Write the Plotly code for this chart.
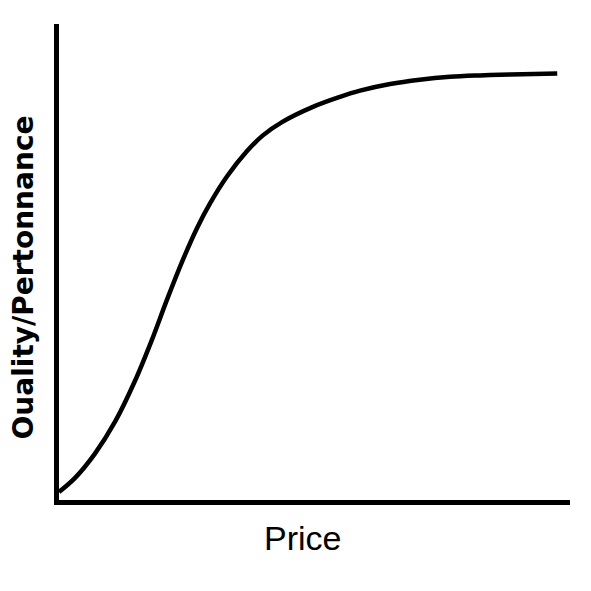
import plotly.graph_objects as go

price = [0, 3.1, 7.0, 11.0, 14.9, 18.2, 21.1, 24.3, 27.0, 29.5, 32.9, 36.8, 39.9, 43.8, 49.7, 55.0, 58.9, 64.8, 70.6, 76.5, 82.4, 88.3, 97.5]
quality = [1.7, 4.6, 9.7, 16.5, 25.1, 33.7, 42.0, 50.6, 57.1, 62.2, 68.0, 73.3, 76.6, 79.5, 82.6, 84.7, 86.0, 87.4, 88.3, 88.9, 89.2, 89.4, 89.6]
x_title = "Price"
y_title = "Ouality/Pertonnance"

fig = go.Figure()
fig.add_trace(go.Scatter(x=price, y=quality, mode="lines",
                         line=dict(color="black", width=4.5, shape="spline", smoothing=1.0),
                         hoverinfo="skip", showlegend=False))

fig.update_layout(
    width=591, height=591,
    margin=dict(l=51, r=29, t=16, b=99),
    paper_bgcolor="white", plot_bgcolor="white",
    font=dict(family="Liberation Sans, Arial, sans-serif", color="black"),
    xaxis=dict(range=[0, 100], showgrid=False, zeroline=False, showticklabels=False, ticks="",
               showline=True, linecolor="black", linewidth=4.5),
    yaxis=dict(range=[0, 100], showgrid=False, zeroline=False, showticklabels=False, ticks="",
               showline=True, linecolor="black", linewidth=4.5),
    annotations=[
        dict(text=x_title, xref="paper", yref="paper", x=0.4765, y=-0.0798, xanchor="center", yanchor="middle",
             showarrow=False, font=dict(size=34, family="Liberation Sans, Arial, sans-serif")),
        dict(text="<b>" + y_title + "</b>", xref="paper", yref="paper", x=-0.069, y=0.467, xanchor="center", yanchor="middle",
             textangle=-90, showarrow=False, borderpad=0, font=dict(size=28, family="DejaVu Sans, sans-serif")),
    ],
)

fig.write_html("out.html")
